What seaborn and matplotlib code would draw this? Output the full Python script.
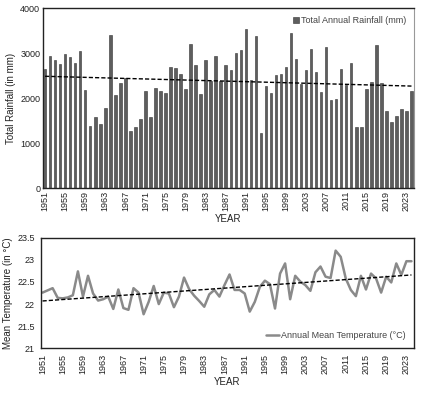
import numpy as np
import pandas as pd
import matplotlib
matplotlib.use("Agg")
import matplotlib.pyplot as plt
from matplotlib.patches import Patch
from matplotlib.lines import Line2D
import seaborn as sns

years = list(range(1951, 2025))
rainfall = [2650, 2930, 2850, 2760, 2990, 2910, 2790, 3050, 2180, 1390,
            1590, 1430, 1780, 3400, 2070, 2340, 2440, 1270, 1360, 1540,
            2150, 1570, 2220, 2160, 2110, 2700, 2660, 2530, 2210, 3210,
            2730, 2090, 2840, 2390, 2930, 2390, 2740, 2620, 3010, 3070,
            3540, 2410, 3390, 1220, 2270, 2110, 2510, 2530, 2690, 3450,
            2880, 2320, 2620, 3100, 2590, 2130, 3140, 1960, 1990, 2650,
            2290, 2790, 1350, 1360, 2200, 2360, 3170, 2330, 1720, 1470,
            1610, 1760, 1720, 2160]
temperature = [22.26, 22.31, 22.36, 22.14, 22.13, 22.15, 22.20, 22.74, 22.17, 22.64,
               22.24, 22.08, 22.11, 22.17, 21.89, 22.33, 21.91, 21.87, 22.36, 22.26,
               21.77, 22.05, 22.41, 22.00, 22.26, 22.24, 21.93, 22.17, 22.60, 22.34,
               22.19, 22.07, 21.94, 22.22, 22.32, 22.17, 22.43, 22.67, 22.32, 22.32,
               22.24, 21.83, 22.05, 22.39, 22.53, 22.45, 21.90, 22.69, 22.92, 22.11,
               22.64, 22.51, 22.43, 22.30, 22.72, 22.85, 22.62, 22.59, 23.21, 23.07,
               22.58, 22.32, 22.18, 22.64, 22.33, 22.69, 22.58, 22.26, 22.62, 22.49,
               22.92, 22.66, 22.97, 22.97]
xtick_years = list(range(1951, 2025, 4))
rain_ticks = [0, 1000, 2000, 3000, 4000]
temp_ticks = [21, 21.5, 22, 22.5, 23, 23.5]
temp_tick_labels = ["21", "21.5", "22", "22.5", "23", "23.5"]

df = pd.DataFrame({"Year": years, "Rainfall": rainfall, "Temperature": temperature})

sns.set_style("white")
plt.rcParams['font.family'] = ['Liberation Sans', 'DejaVu Sans']

fig = plt.figure(figsize=(4.22, 3.96), dpi=100)
ax1 = fig.add_axes([0.102, 0.525, 0.879, 0.4545])
ax2 = fig.add_axes([0.096, 0.1205, 0.885, 0.279])

# --- Rainfall bars ---
sns.barplot(data=df, x="Year", y="Rainfall", native_scale=True, width=0.5,
            color="#5e5e5e", edgecolor="#333333", linewidth=0.4,
            saturation=1, ax=ax1)
sns.regplot(data=df, x="Year", y="Rainfall", scatter=False, ci=None, truncate=True,
            line_kws=dict(color="black", lw=1.0, ls=(0, (3, 1.5))), ax=ax1)
ax1.set_xlim(1950.6, 2024.5)
ax1.set_ylim(0, 4000)
ax1.set_yticks(rain_ticks)
ax1.set_xticks(xtick_years)
ax1.set_xticklabels([str(y) for y in xtick_years], rotation=90)
ax1.tick_params(axis='both', labelsize=6.5, colors='#222222', length=0, pad=2)
ax1.set_ylabel("Total Rainfall (in mm)", fontsize=7, color='#222222', labelpad=3)
ax1.set_xlabel("YEAR", fontsize=7, color='#222222', labelpad=2)
for s in ['left', 'bottom', 'top']:
    ax1.spines[s].set_color('#222222')
    ax1.spines[s].set_linewidth(1.0)
ax1.spines['right'].set_color('#999999')
ax1.spines['right'].set_linewidth(0.8)
ax1.legend(handles=[Patch(facecolor="#5e5e5e", edgecolor="#333333", lw=0.4,
                          label="Total Annual Rainfall (mm)")],
           loc="upper right", frameon=False, fontsize=6.5, handlelength=0.6,
           handleheight=0.6, handletextpad=0.2, borderaxespad=0.5,
           labelcolor='#444444')

# --- Temperature line ---
sns.lineplot(data=df, x="Year", y="Temperature", color="#8a8a8a", lw=1.8, ax=ax2)
sns.regplot(data=df, x="Year", y="Temperature", scatter=False, ci=None, truncate=True,
            line_kws=dict(color="black", lw=1.0, ls=(0, (3, 1.5))), ax=ax2)
ax2.set_xlim(1950.6, 2024.5)
ax2.set_ylim(21, 23.5)
ax2.set_yticks(temp_ticks)
ax2.set_yticklabels(temp_tick_labels)
ax2.set_xticks(xtick_years)
ax2.set_xticklabels([str(y) for y in xtick_years], rotation=90)
ax2.tick_params(axis='x', labelsize=6.5, colors='#222222', direction='inout', length=4,
                width=1, pad=2)
ax2.tick_params(axis='y', labelsize=6.5, colors='#222222', direction='out', length=2,
                width=0.8, pad=2)
ax2.set_ylabel("Mean Temperature (in °C)", fontsize=7, color='#222222', labelpad=3)
ax2.set_xlabel("YEAR", fontsize=7, color='#222222', labelpad=2)
for s in ax2.spines.values():
    s.set_color('#222222')
    s.set_linewidth(1.0)
ax2.legend(handles=[Line2D([0], [0], color="#8a8a8a", lw=1.8,
                           label="Annual Mean Temperature (°C)")],
           loc="lower right", frameon=False, fontsize=6.5, handlelength=1.5,
           handletextpad=0.2, borderaxespad=0.5, labelcolor='#444444')

fig.savefig("out.png", dpi=100)
